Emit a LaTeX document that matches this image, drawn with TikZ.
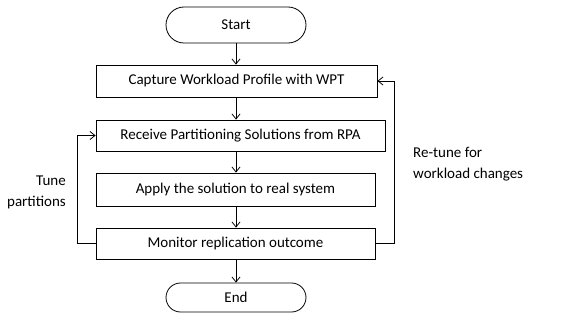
\documentclass[tikz,border=0pt]{standalone}
\usepackage{fontspec}
\setmainfont{Carlito}
\usetikzlibrary{shapes.misc,arrows.meta}
\begin{document}
\begin{tikzpicture}[x=1pt,y=-1pt,
  every node/.style={font=\fontsize{15}{21}\selectfont, inner sep=0pt},
  stepbox/.style={draw, line width=0.8pt, rectangle},
  termbox/.style={draw, line width=0.8pt, rounded rectangle, minimum width=140pt},
  flow/.style={line width=0.8pt, -{Straight Barb[length=5pt,width=8pt]}}]
\useasboundingbox (0,0) rectangle (574,321);

\node[termbox, minimum height=36pt] (start) at (236,25) {Start};
\node[stepbox, minimum width=281pt, minimum height=32pt] (capture) at (236.5,81) {Capture Workload Profile with WPT};
\node[stepbox, minimum width=289pt, minimum height=31pt] (receive) at (240.5,135.5) {Receive Partitioning Solutions from RPA};
\node[stepbox, minimum width=279pt, minimum height=33pt] (apply) at (235.5,189.5) {Apply the solution to real system};
\node[stepbox, minimum width=279pt, minimum height=31pt] (monitor) at (235.5,243.5) {Monitor replication outcome};
\node[termbox, minimum height=29pt] (end) at (236,297.5) {End};

\draw[flow] (start.south -| 236,0) -- (capture.north -| 236,0);
\draw[flow] (capture.south -| 236,0) -- (receive.north -| 236,0);
\draw[flow] (receive.south -| 236,0) -- (apply.north -| 236,0);
\draw[flow] (apply.south -| 236,0) -- (monitor.north -| 236,0);
\draw[flow] (monitor.south -| 236,0) -- (end.north -| 236,0);

% feedback loops
\draw[flow] (monitor.west) -- ++(-18,0) |- (receive.west);
\draw[flow] (monitor.east) -- (394,243.5) |- (capture.east);

\node[align=right, anchor=east] (tune) at (66,192) {Tune\\partitions};
\node[align=left, anchor=west] (retune) at (413,164) {Re-tune for\\workload changes};
\end{tikzpicture}
\end{document}
